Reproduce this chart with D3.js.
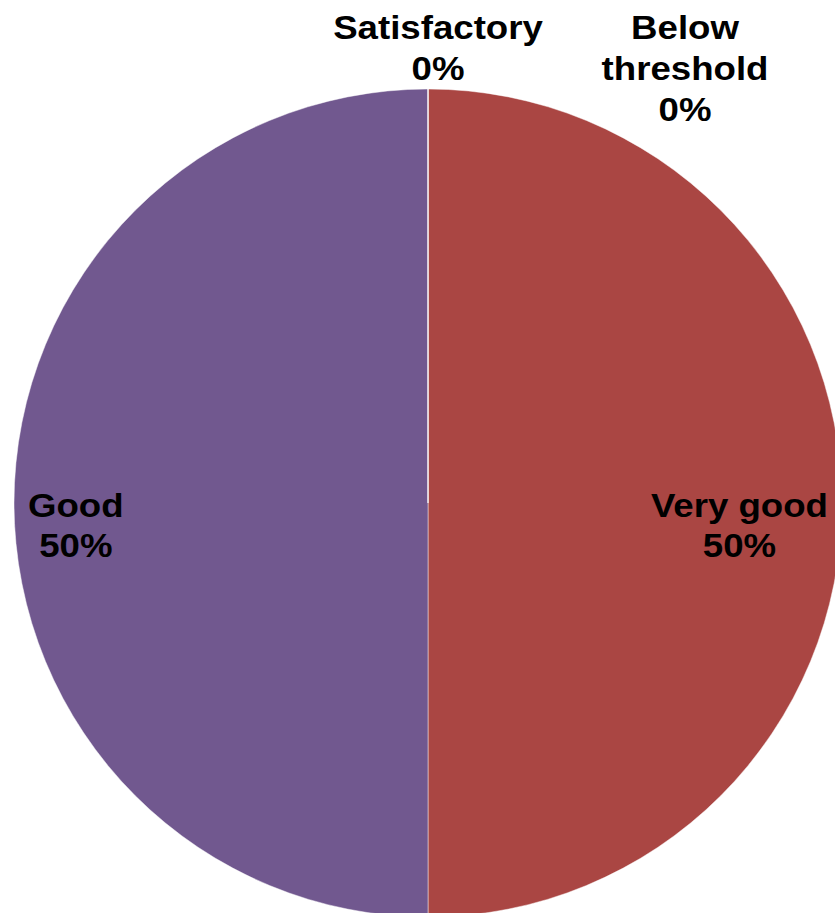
<!DOCTYPE html>
<html>
<head>
<meta charset="utf-8">
<script src="https://d3js.org/d3.v7.min.js"></script>
<style>
  body { margin: 0; background: #fff; }
  text { font-family: "Liberation Sans", Arial, sans-serif; font-weight: bold; fill: #000; }
</style>
</head>
<body>
<div id="chart"></div>
<script>
// slice data, clockwise from 12 o'clock
var categories = ["Very good", "Good", "Satisfactory", "Below threshold"];
var values = [50, 50, 0, 0];
var colours = ["#AA4643", "#71588F", "#89A54E", "#4572A7"];

var width = 835,
    height = 913;

var cx = 428, cy = 503, radius = 414;
var fontSize = 33, lineH = 41, stretch = 1.11;

var svg = d3.select("#chart")
    .append("svg")
    .attr("width", width)
    .attr("height", height);

var total = d3.sum(values);
var data = categories.map(function(c, i) { return {name: c, value: values[i], colour: colours[i]}; });

var pie = d3.pie()
    .sort(null)
    .value(function(d) { return d.value; });

var arc = d3.arc()
    .innerRadius(0)
    .outerRadius(radius);

var arcs = pie(data);

var g = svg.append("g")
    .attr("transform", "translate(" + cx + "," + cy + ")");

g.selectAll("path")
    .data(arcs)
    .enter().append("path")
    .attr("d", arc)
    .style("fill", function(d) { return d.data.colour; })
    .style("stroke", "#fff")
    .style("stroke-opacity", 0.45)
    .style("stroke-width", 1);

function pct(d) { return Math.round(d.value / total * 100) + "%"; }

// split long names into two lines like the original
function lines(d) {
    var words = d.data.name.split(" ");
    if (d.data.name === "Below threshold") return words.concat([pct(d.data)]);
    return [d.data.name, pct(d.data)];
}

var zeroCount = 0;
arcs.forEach(function(d) {
    var mid = (d.startAngle + d.endAngle) / 2;
    var ls = lines(d);
    var label = g.append("g");
    var t = label.append("text")
        .style("font-size", fontSize + "px")
        .attr("text-anchor", "middle");
    ls.forEach(function(s, i) {
        t.append("tspan").attr("x", 0).attr("dy", i === 0 ? 0 : lineH).text(s);
    });
    var w = 0;
    t.selectAll("tspan").each(function() { w = Math.max(w, this.getComputedTextLength()); });
    w *= stretch;

    var x, y;
    if (d.value > 0) {
        // inside end: keep label edge a little inside the rim
        var sx = Math.sin(mid), sy = -Math.cos(mid);
        x = sx * (radius - 14 - w / 2);
        y = sy * (radius - 14) + 13.5;
    } else {
        // outside end at the top, shifted aside to avoid overlaps
        var n = ls.length;
        x = zeroCount === 0 ? 10 : 257;
        y = zeroCount === 0 ? -radius - 9 - (n - 1) * lineH : -cy + 39;
        zeroCount++;
    }
    label.attr("transform", "translate(" + x + "," + y + ") scale(" + stretch + ",1)");
});
</script>
</body>
</html>
